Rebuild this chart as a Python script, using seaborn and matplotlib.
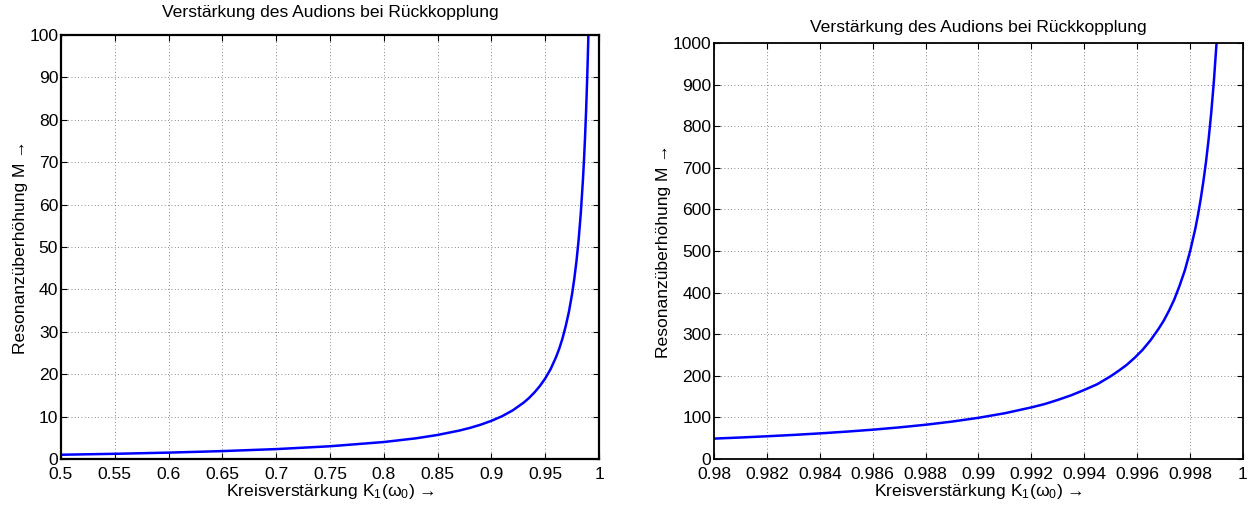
import matplotlib
matplotlib.use("Agg")
import matplotlib.pyplot as plt
import seaborn as sns
import pandas as pd

# ---- data ----
left_k = [0.50, 0.55, 0.60, 0.65, 0.70, 0.75, 0.80, 0.83, 0.85, 0.87, 0.88, 0.89,
          0.90, 0.91, 0.92, 0.93, 0.935, 0.94, 0.945, 0.95, 0.955, 0.96, 0.963,
          0.966, 0.969, 0.972, 0.975, 0.977, 0.979, 0.981, 0.983, 0.985, 0.986,
          0.987, 0.988, 0.989, 0.9895, 0.990, 0.9901]
left_m = [1.0, 1.22, 1.5, 1.86, 2.33, 3.0, 4.0, 4.88, 5.67, 6.69, 7.33, 8.09,
          9.0, 10.1, 11.5, 13.3, 14.4, 15.7, 17.2, 19.0, 21.2, 24.0, 26.0,
          28.4, 31.3, 34.7, 39.0, 42.5, 46.6, 51.6, 57.8, 65.7, 70.4,
          75.9, 82.3, 89.9, 94.2, 99.0, 100.0]

right_k = [0.9800, 0.9810, 0.9820, 0.9830, 0.9840, 0.9850, 0.9860, 0.9870, 0.9880,
           0.9890, 0.9900, 0.9910, 0.9920, 0.9925, 0.9930, 0.9935, 0.9940, 0.9945,
           0.9950, 0.9953, 0.9956, 0.9959, 0.9962, 0.9965, 0.9968, 0.9970, 0.9972,
           0.9974, 0.9976, 0.9978, 0.9980, 0.9982, 0.9983, 0.9984, 0.9985, 0.9986,
           0.9987, 0.9988, 0.9989, 0.9990]
right_m = [49, 51.6, 54.6, 57.8, 61.5, 65.7, 70.4, 75.9, 82.3,
           89.9, 99, 110, 124, 132, 142, 153, 166, 180,
           199, 212, 226, 243, 262, 285, 312, 332, 356,
           383, 416, 453, 499, 554, 587, 624, 666, 713,
           768, 832, 908, 999]

left_xticks = [0.5, 0.55, 0.6, 0.65, 0.7, 0.75, 0.8, 0.85, 0.9, 0.95, 1.0]
left_xlabels = ["0.5", "0.55", "0.6", "0.65", "0.7", "0.75", "0.8", "0.85", "0.9", "0.95", "1"]
left_yticks = [0, 10, 20, 30, 40, 50, 60, 70, 80, 90, 100]

right_xticks = [0.98, 0.982, 0.984, 0.986, 0.988, 0.99, 0.992, 0.994, 0.996, 0.998, 1.0]
right_xlabels = ["0.98", "0.982", "0.984", "0.986", "0.988", "0.99", "0.992", "0.994",
                 "0.996", "0.998", "1"]
right_yticks = [0, 100, 200, 300, 400, 500, 600, 700, 800, 900, 1000]

title = "Verstärkung des Audions bei Rückkopplung"
xlabel = "Kreisverstärkung K$_\\mathregular{1}$(ω$_\\mathregular{0}$) →"
ylabel = "Resonanzüberhöhung M →"

# ---- styling ----
sns.set_theme(style="white")
plt.rcParams["font.family"] = ["Liberation Sans", "DejaVu Sans"]
plt.rcParams["mathtext.fontset"] = "custom"
plt.rcParams["mathtext.rm"] = "Liberation Sans"
plt.rcParams["mathtext.it"] = "Liberation Sans:italic"
FS = 12.6

fig = plt.figure(figsize=(12.54, 5.08), dpi=100)
ax1 = fig.add_axes([0.0486, 0.0965, 0.4291, 0.8345])
ax2 = fig.add_axes([0.5694, 0.0965, 0.4218, 0.8189])

df_l = pd.DataFrame({"K": left_k, "M": left_m})
df_r = pd.DataFrame({"K": right_k, "M": right_m})

for ax, df, xt, xl, yt, lw_frame, tpad in [
    (ax1, df_l, left_xticks, left_xlabels, left_yticks, 1.6, 13),
    (ax2, df_r, right_xticks, right_xlabels, right_yticks, 1.3, 8),
]:
    sns.lineplot(data=df, x="K", y="M", ax=ax, color=(0, 0, 1), linewidth=1.8,
                 sort=False, estimator=None)
    ax.set_xlim(xt[0], xt[-1])
    ax.set_ylim(yt[0], yt[-1])
    ax.set_xticks(xt)
    ax.set_xticklabels(xl)
    ax.set_yticks(yt)
    ax.set_yticklabels([str(v) for v in yt])
    ax.grid(True, linestyle=(0, (1, 3)), color="#666666", linewidth=0.6)
    ax.tick_params(direction="in", length=4, width=0.8, top=True, right=True,
                   bottom=True, left=True, labelsize=FS, colors="black")
    ax.tick_params(axis="x", pad=6)
    ax.tick_params(axis="y", pad=2)
    for s in ax.spines.values():
        s.set_color("black")
        s.set_linewidth(lw_frame)
        s.set_visible(True)
    ax.set_title(title, fontsize=FS, pad=tpad, color="black")
    ax.set_xlabel(xlabel, fontsize=FS, labelpad=0, color="black")
    ax.set_ylabel(ylabel, fontsize=FS, labelpad=1, color="black")

fig.savefig("out.png", dpi=100)
